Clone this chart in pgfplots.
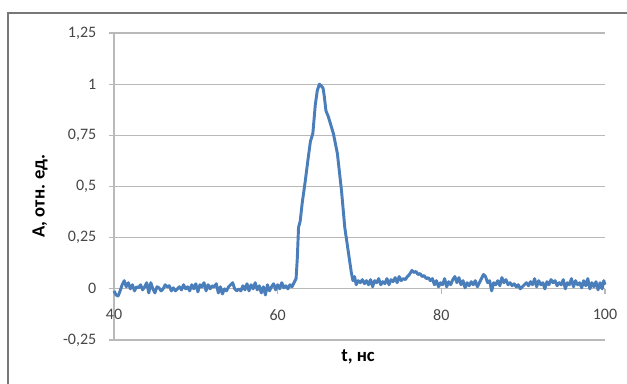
\documentclass[border=0pt]{standalone}
\usepackage{pgfplots}
\pgfplotsset{compat=1.18}
\usepackage{fontspec}
\setmainfont{Carlito}
\definecolor{linecol}{RGB}{74,126,187}
\definecolor{gridcol}{RGB}{185,185,185}
\definecolor{tickcol}{RGB}{70,70,70}
\definecolor{framecol}{RGB}{120,120,120}
\begin{document}
\begin{tikzpicture}
\useasboundingbox (0,0) rectangle (470.25pt,287.25pt);
\draw[framecol, line width=0.9pt] (6pt,277.5pt) rectangle (490pt,-20pt);
\begin{axis}[
  at={(85.5pt,32.25pt)}, anchor=south west,
  scale only axis, width=368.25pt, height=230.25pt,
  xmin=40, xmax=100, ymin=-0.25, ymax=1.25,
  axis x line*=middle, axis y line*=left,
  hide obscured x ticks=false, hide obscured y ticks=false,
  axis line style={gridcol, line width=0.8pt},
  xtick={40,60,80,100}, ytick={-0.25,0,0.25,0.5,0.75,1,1.25},
  yticklabels={{-0,25},0,{0,25},{0,5},{0,75},1,{1,25}},
  ymajorgrids, grid style={gridcol, line width=0.8pt},
  tick align=outside, major tick length=3.75pt,
  tick style={gridcol, line width=0.8pt},
  every tick label/.append style={font=\fontsize{12}{14}\selectfont, text=tickcol},
  /pgf/number format/assume math mode=true,
  xticklabel style={yshift=-8pt},
  yticklabel style={xshift=-6pt},
  xlabel={\textbf{t, нс}}, ylabel={\textbf{А, отн. ед.}},
  label style={font=\fontsize{14}{16}\selectfont},
  xlabel style={at={(axis description cs:0.497,-0.0554)}, anchor=center},
  ylabel style={at={(axis description cs:-0.1507,0.469)}, anchor=center},
  clip=false,
]
\addplot[linecol, line width=2.2pt, line join=round] table {
40.00 -0.01
40.25 -0.03
40.50 -0.035
40.75 -0.01
41.00 0.02
41.25 0.04
41.50 0.01
41.75 0.03
42.00 0.0
42.25 0.02
42.50 -0.01
42.75 0.01
43.00 0.005
43.25 0.02
43.50 -0.005
43.75 0.01
44.00 0.03
44.25 -0.02
44.50 0.03
44.75 0.0
45.00 -0.02
45.25 0.01
45.50 0.005
45.75 -0.01
46.00 0.0
46.25 0.02
46.50 0.01
46.75 0.015
47.00 -0.01
47.25 0.005
47.50 -0.01
47.75 0.0
48.00 0.01
48.25 -0.005
48.50 0.02
48.75 0.0
49.00 0.01
49.25 -0.01
49.50 0.02
49.75 0.0
50.00 0.025
50.25 -0.015
50.50 0.02
50.75 0.01
51.00 0.03
51.25 -0.01
51.50 0.02
51.75 0.0
52.00 0.015
52.25 0.01
52.50 0.025
52.75 -0.02
53.00 0.01
53.25 -0.025
53.50 0.0
53.75 -0.01
54.00 0.01
54.25 0.02
54.50 0.03
54.75 0.0
55.00 -0.01
55.25 0.0
55.50 -0.01
55.75 0.015
56.00 -0.005
56.25 0.025
56.50 -0.01
56.75 0.02
57.00 0.0
57.25 0.03
57.50 -0.005
57.75 0.015
58.00 -0.02
58.25 0.01
58.50 -0.03
58.75 0.02
59.00 -0.01
59.25 0.01
59.50 0.025
59.75 -0.005
60.00 0.02
60.25 0.0
60.50 0.03
60.75 0.005
61.00 0.015
61.25 0.0
61.50 0.02
61.75 0.01
62.00 0.03
62.25 0.05
62.40 0.15
62.55 0.30
62.75 0.33
63.00 0.42
63.35 0.52
63.70 0.63
64.00 0.72
64.30 0.76
64.60 0.90
64.85 0.97
65.10 1.00
65.35 0.99
65.55 0.98
65.70 0.94
65.90 0.87
66.20 0.84
66.50 0.80
66.80 0.76
67.30 0.66
67.80 0.48
68.20 0.30
68.60 0.19
69.00 0.08
69.20 0.04
69.40 0.06
69.60 0.02
69.85 0.04
70.10 0.03
70.35 0.045
70.60 0.025
70.85 0.04
71.10 0.02
71.35 0.045
71.60 0.01
71.85 0.04
72.10 0.03
72.35 0.05
72.60 0.02
72.85 0.035
73.10 0.025
73.35 0.05
73.60 0.02
73.85 0.045
74.10 0.035
74.35 0.055
74.60 0.03
74.85 0.06
75.10 0.04
75.35 0.05
75.60 0.045
75.85 0.06
76.10 0.07
76.40 0.09
76.65 0.08
76.90 0.085
77.15 0.07
77.40 0.075
77.65 0.06
77.90 0.065
78.15 0.05
78.40 0.055
78.65 0.04
78.90 0.05
79.15 0.02
79.40 0.04
79.65 0.01
79.90 0.03
80.15 0.02
80.40 0.05
80.65 0.01
80.90 0.035
81.15 0.02
81.40 0.045
81.65 0.06
81.90 0.03
82.15 0.055
82.40 0.02
82.65 0.04
82.90 0.005
83.15 0.03
83.40 0.015
83.65 0.035
83.90 0.02
84.15 0.04
84.40 0.01
84.65 0.03
84.90 0.05
85.15 0.07
85.40 0.06
85.65 0.03
85.90 0.04
86.15 -0.01
86.40 0.03
86.65 0.02
86.90 0.04
87.15 0.015
87.40 0.055
87.65 0.03
87.90 0.045
88.15 0.02
88.40 0.03
88.65 0.015
88.90 0.025
89.15 0.01
89.40 0.02
89.65 0.0
89.90 0.01
90.15 0.02
90.40 0.03
90.65 0.015
90.90 0.035
91.15 0.02
91.40 0.05
91.65 0.01
91.90 0.04
92.15 0.02
92.40 0.03
92.65 0.0
92.90 0.035
93.15 0.02
93.40 0.045
93.65 0.03
93.90 0.04
94.15 0.015
94.40 0.03
94.65 0.02
94.90 0.045
95.15 0.0
95.40 0.03
95.65 0.02
95.90 0.05
96.15 0.01
96.40 0.04
96.65 0.02
96.90 0.03
97.15 0.005
97.40 0.04
97.65 0.015
97.90 0.05
98.15 0.0
98.40 0.03
98.65 0.01
98.90 0.035
99.15 -0.005
99.40 0.03
99.65 0.0
99.85 0.04
100.00 0.02
};
\end{axis}
\end{tikzpicture}
\end{document}
